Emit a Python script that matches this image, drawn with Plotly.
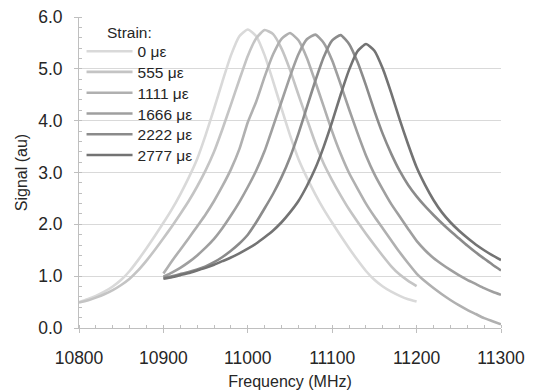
import plotly.graph_objects as go

# Frequency axes (MHz)
freq_low = list(range(10800, 11201, 10))   # for 0 and 555 µε
freq_high = list(range(10900, 11301, 10))  # for 1111 ... 2777 µε

strain_labels = ["0 με", "555 με", "1111 με", "1666 με", "2222 με", "2777 με"]

sig_0 = [0.5, 0.555, 0.62, 0.7, 0.8, 0.93, 1.1, 1.31, 1.54, 1.78,
         2.03, 2.29, 2.58, 2.90, 3.26, 3.72, 4.23, 4.76, 5.26, 5.63,
         5.76, 5.63, 5.26, 4.76, 4.23, 3.72, 3.26, 2.90, 2.58, 2.29,
         2.03, 1.78, 1.54, 1.31, 1.1, 0.93, 0.8, 0.7, 0.62, 0.555,
         0.51]
sig_555 = [0.49, 0.53, 0.586, 0.65, 0.73, 0.83, 0.95, 1.11, 1.30, 1.51,
           1.73, 1.96, 2.20, 2.45, 2.73, 3.04, 3.40, 3.84, 4.31, 4.79,
           5.25, 5.59, 5.75, 5.67, 5.39, 4.98, 4.50, 4.03, 3.57, 3.17,
           2.85, 2.56, 2.29, 2.05, 1.82, 1.60, 1.39, 1.19, 1.03, 0.91,
           0.81]
sig_1111 = [1.05, 1.29, 1.51, 1.73, 1.96, 2.19, 2.45, 2.74, 3.06, 3.45,
            3.97, 4.37, 4.85, 5.28, 5.58, 5.69, 5.55, 5.21, 4.75, 4.27,
            3.79, 3.36, 2.99, 2.69, 2.40, 2.15, 1.92, 1.69, 1.46, 1.25,
            1.05, 0.9, 0.77, 0.65, 0.54, 0.44, 0.35, 0.27, 0.19, 0.13,
            0.07]
sig_1666 = [0.99, 1.07, 1.16, 1.27, 1.40, 1.55, 1.72, 1.93, 2.17, 2.43,
            2.72, 3.04, 3.42, 3.89, 4.37, 4.85, 5.28, 5.57, 5.66, 5.50,
            5.16, 4.70, 4.22, 3.76, 3.33, 2.97, 2.67, 2.39, 2.15, 1.91,
            1.68, 1.50, 1.35, 1.23, 1.12, 1.02, 0.93, 0.85, 0.77, 0.7,
            0.64]
sig_2222 = [0.97, 1.0, 1.04, 1.08, 1.13, 1.19, 1.27, 1.37, 1.49, 1.63,
            1.80, 2.04, 2.31, 2.59, 2.91, 3.29, 3.75, 4.26, 4.77, 5.23,
            5.55, 5.65, 5.48, 5.13, 4.68, 4.19, 3.74, 3.36, 3.03, 2.76,
            2.54, 2.35, 2.18, 2.02, 1.87, 1.73, 1.59, 1.46, 1.34, 1.22,
            1.11]
sig_2777 = [0.95, 0.98, 1.02, 1.06, 1.11, 1.16, 1.22, 1.29, 1.36, 1.44,
            1.53, 1.63, 1.75, 1.88, 2.04, 2.23, 2.45, 2.74, 3.08, 3.50,
            3.98, 4.50, 4.98, 5.34, 5.48, 5.35, 5.0, 4.53, 4.02, 3.54,
            3.10, 2.76, 2.47, 2.23, 2.04, 1.88, 1.74, 1.61, 1.5, 1.4,
            1.31]

x_ticks = [10800, 10900, 11000, 11100, 11200, 11300]
y_ticks = [0, 1, 2, 3, 4, 5, 6]

series = [
    (freq_low, sig_0, "#d9d9d9"),
    (freq_low, sig_555, "#c4c4c4"),
    (freq_high, sig_1111, "#b0b0b0"),
    (freq_high, sig_1666, "#9f9f9f"),
    (freq_high, sig_2222, "#8b8b8b"),
    (freq_high, sig_2777, "#737373"),
]

FONT = "Liberation Sans, Arial, sans-serif"
TXT = "#262626"
fig = go.Figure()
legend_ids = ["legend", "legend2", "legend3", "legend4", "legend5", "legend6"]
for (fx, fy, col), name, lg in zip(series, strain_labels, legend_ids):
    fig.add_trace(go.Scatter(x=fx, y=fy, mode="lines", name=name, legend=lg,
                             line=dict(color=col, width=2.6, shape="spline", smoothing=0.5)))

# plot-area geometry (px, in page coordinates) used only for placing legend rows
PLOT_TOP, PLOT_H, PLOT_W = 17, 311.3, 421.4
legend_row_px = [51.7, 72.4, 93.2, 114.0, 134.8, 155.6]
legend_layout = {}
for lg, ypx in zip(legend_ids, legend_row_px):
    legend_layout[lg] = dict(x=0.006, y=1 - (ypx - PLOT_TOP) / PLOT_H,
                             xanchor="left", yanchor="middle",
                             bgcolor="rgba(0,0,0,0)", borderwidth=0,
                             font=dict(size=15.5, family=FONT, color=TXT),
                             itemwidth=46)

axis_col = "#bfbfbf"
# The page body has an 8px margin, so the figure is 8px smaller than the window.
fig.update_layout(
    width=526, height=384,
    margin=dict(l=71, r=33, t=9, b=64, autoexpand=False),
    paper_bgcolor="white", plot_bgcolor="white",
    font=dict(family=FONT, color=TXT),
    showlegend=True,
    annotations=[dict(text="Strain:", xref="paper", yref="paper", x=(105 - 79.3) / PLOT_W,
                      y=1 - (33 - PLOT_TOP) / PLOT_H,
                      xanchor="left", yanchor="middle", showarrow=False,
                      font=dict(size=15.5, family=FONT, color=TXT))],
    xaxis=dict(range=[10800, 11300], tickvals=x_ticks, ticktext=[str(v) for v in x_ticks],
               ticks="outside", ticklen=4, tickcolor=axis_col, automargin=False,
               ticklabeloverflow="allow",
               showline=True, linecolor=axis_col, linewidth=1, showgrid=False, zeroline=False,
               minor=dict(dtick=20, tick0=10800, ticks="inside", ticklen=3, tickcolor=axis_col, showgrid=False),
               tickfont=dict(size=17.5, family=FONT, color=TXT),
               ticklabelstandoff=10,
               title=dict(text="Frequency (MHz)", font=dict(size=16, family=FONT, color=TXT), standoff=8)),
    yaxis=dict(range=[0, 6], tickvals=y_ticks, ticktext=["%.1f" % v for v in y_ticks],
               ticks="outside", ticklen=4, tickcolor=axis_col, automargin=False,
               ticklabeloverflow="allow",
               showline=True, linecolor=axis_col, linewidth=1,
               showgrid=True, gridcolor="#d9d9d9", gridwidth=1, zeroline=False,
               minor=dict(dtick=0.2, tick0=0, ticks="inside", ticklen=3, tickcolor=axis_col, showgrid=False),
               tickfont=dict(size=17.5, family=FONT, color=TXT),
               ticklabelstandoff=8,
               title=dict(text="Signal (au)", font=dict(size=16, family=FONT, color=TXT), standoff=6)),
    xaxis2=dict(overlaying="x", anchor="y", range=[10800, 11300], tickvals=x_ticks, automargin=False,
                ticks="inside", ticklen=4, tickcolor=axis_col, showticklabels=False,
                showline=False, showgrid=False, zeroline=False, side="bottom"),
    yaxis2=dict(overlaying="y", anchor="x", range=[0, 6], tickvals=y_ticks, automargin=False,
                ticks="inside", ticklen=4, tickcolor=axis_col, showticklabels=False,
                showline=False, showgrid=False, zeroline=False, side="left"),
    **legend_layout,
)

fig.write_html("out.html")
